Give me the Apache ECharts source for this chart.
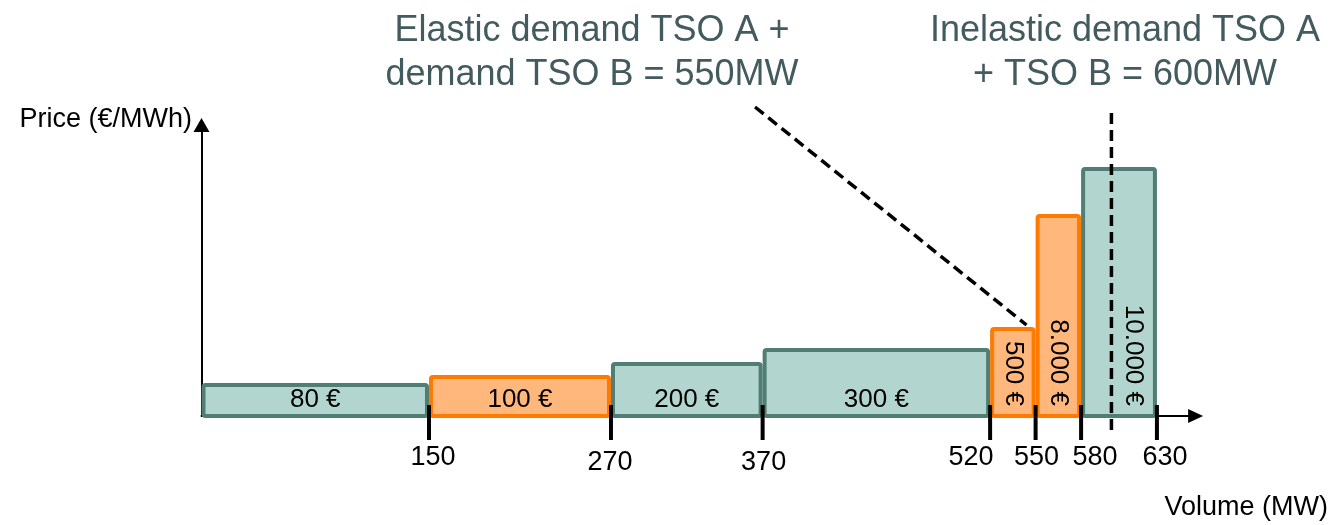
<!DOCTYPE html>
<html>
<head>
<meta charset="utf-8">
<title>Merit order – TSO A + TSO B</title>
<script src="https://cdn.jsdelivr.net/npm/echarts@6/dist/echarts.min.js"></script>
<style>
  html, body { margin: 0; padding: 0; background: #ffffff; }
  #chart { width: 1334px; height: 525px; }
</style>
</head>
<body>
<div id="chart"></div>
<script>
// Common merit order of the two TSOs: each block spans [volumeBreaks[i], volumeBreaks[i+1]] MW.
const volumeBreaks = [0, 150, 270, 370, 520, 550, 580, 630];
const blockPrices = [80, 100, 200, 300, 500, 8000, 10000];        // €/MWh
const priceLabels = ['80 €', '100 €', '200 €', '300 €', '500 €', '8.000 €', '10.000 €'];
// Step heights on the (not to scale) schematic price axis
const stepHeights = [31, 39, 52, 66, 87, 200, 247];
const blockOwner = ['A', 'B', 'A', 'A', 'B', 'B', 'A'];
const tickLabels = ['150', '270', '370', '520', '550', '580', '630'];

// Demand curves
const elasticDemand = [[365, 309], [544, 91]];
const inelasticDemandMW = 600;
const inelasticDemand = [[inelasticDemandMW, -14], [inelasticDemandMW, 309]];

// Layout: small pixel nudges that keep the crowded volume labels apart
const tickLabelDx = [4, -1, 1, -19, 1, 14, 8];
const tickLabelDy = [0, 5, 5, 0, 0, 0, 0];

const FONT = '"Liberation Sans", Arial, sans-serif';
const ownerStyle = {
  A: { fill: '#b3d5cf', stroke: '#507d74' },
  B: { fill: '#ffb77c', stroke: '#ff7a00' }
};

const blockData = blockPrices.map((p, i) => [volumeBreaks[i], volumeBreaks[i + 1], stepHeights[i], i]);
const tickData = tickLabels.map((t, i) => [volumeBreaks[i + 1], 0, i]);

const chart = echarts.init(document.getElementById('chart'), null, { renderer: 'canvas' });

function renderBlock(params, api) {
  const i = api.value(3);
  const pBase = api.coord([api.value(0), 0]);
  const pTop = api.coord([api.value(1), api.value(2)]);
  const inset = 2;
  const x0 = pBase[0] + inset;
  const x1 = pTop[0] - inset;
  const st = ownerStyle[blockOwner[i]];
  const children = [{
    type: 'rect',
    shape: { x: x0, y: pTop[1], width: x1 - x0, height: pBase[1] - pTop[1], r: 2 },
    style: { fill: st.fill, stroke: st.stroke, lineWidth: 4 }
  }];
  const narrow = (x1 - x0) < 90;
  if (narrow) {
    // Vertical label; keep it clear of the inelastic demand line when it crosses the block
    let left = x0;
    const xd = api.coord([inelasticDemandMW, 0])[0];
    if (xd > x0 && xd < x1) left = xd;
    children.push({
      type: 'text',
      x: (left + x1) / 2,
      y: pBase[1] - 10,
      rotation: -Math.PI / 2,
      style: {
        text: priceLabels[i], fontFamily: FONT, fontSize: 26, fill: '#000',
        align: 'right', verticalAlign: 'middle'
      }
    });
  } else {
    children.push({
      type: 'text',
      x: (x0 + x1) / 2,
      y: pBase[1] - 16,
      style: {
        text: priceLabels[i], fontFamily: FONT, fontSize: 26, fill: '#000',
        align: 'center', verticalAlign: 'middle'
      }
    });
  }
  return { type: 'group', children };
}

function renderTick(params, api) {
  const i = api.value(2);
  const p = api.coord([api.value(0), 0]);
  return {
    type: 'group',
    children: [
      { type: 'rect', shape: { x: p[0] - 2, y: p[1] - 11, width: 4, height: 35 }, style: { fill: '#000' } },
      {
        type: 'text', x: p[0] + tickLabelDx[i], y: p[1] + 42 + tickLabelDy[i],
        style: { text: tickLabels[i], fontFamily: FONT, fontSize: 27, fill: '#000', align: 'center', verticalAlign: 'middle' }
      }
    ]
  };
}

const option = {
  animation: false,
  backgroundColor: '#ffffff',
  grid: { left: 201.5, right: 138.4, top: 125, bottom: 109, containLabel: false },
  xAxis: {
    type: 'value', min: 0, max: 655.5,
    axisLine: { show: true, symbol: ['none', 'triangle'], symbolSize: [14, 15], lineStyle: { color: '#000', width: 2 } },
    axisTick: { show: false }, axisLabel: { show: false }, splitLine: { show: false }
  },
  yAxis: {
    type: 'value', min: 0, max: 291,
    axisLine: { show: true, symbol: ['none', 'triangle'], symbolSize: [16, 14], lineStyle: { color: '#000', width: 2 } },
    axisTick: { show: false }, axisLabel: { show: false }, splitLine: { show: false }
  },
  graphic: [
    { type: 'text', x: 192, y: 120, style: { text: 'Price (€/MWh)', fontFamily: FONT, fontSize: 27, fill: '#000', align: 'right', verticalAlign: 'middle' } },
    { type: 'text', x: 1328, y: 508, style: { text: 'Volume (MW)', fontFamily: FONT, fontSize: 27, fill: '#000', align: 'right', verticalAlign: 'middle' } },
    { type: 'text', x: 592, y: 53, style: { text: 'Elastic demand TSO A +\ndemand TSO B = 550MW', fontFamily: FONT, fontSize: 36, lineHeight: 44, fill: '#435a5f', align: 'center', verticalAlign: 'middle' } },
    { type: 'text', x: 1125, y: 53, style: { text: 'Inelastic demand TSO A\n+ TSO B = 600MW', fontFamily: FONT, fontSize: 36, lineHeight: 44, fill: '#435a5f', align: 'center', verticalAlign: 'middle' } }
  ],
  series: [
    {
      name: 'Elastic demand', type: 'line', data: elasticDemand, clip: false, symbol: 'none', silent: true, z: 1,
      lineStyle: { color: '#000', width: 3.5, type: [11, 6] }
    },
    {
      name: 'Merit order', type: 'custom', data: blockData, renderItem: renderBlock, clip: false, silent: true, z: 2,
      encode: { x: [0, 1], y: 2 }
    },
    {
      name: 'Inelastic demand', type: 'line', data: inelasticDemand, clip: false, symbol: 'none', silent: true, z: 3,
      lineStyle: { color: '#000', width: 3.5, type: [11, 6] }
    },
    {
      name: 'Volume ticks', type: 'custom', data: tickData, renderItem: renderTick, clip: false, silent: true, z: 4,
      encode: { x: 0, y: 1 }
    }
  ]
};

chart.setOption(option);
</script>
</body>
</html>
